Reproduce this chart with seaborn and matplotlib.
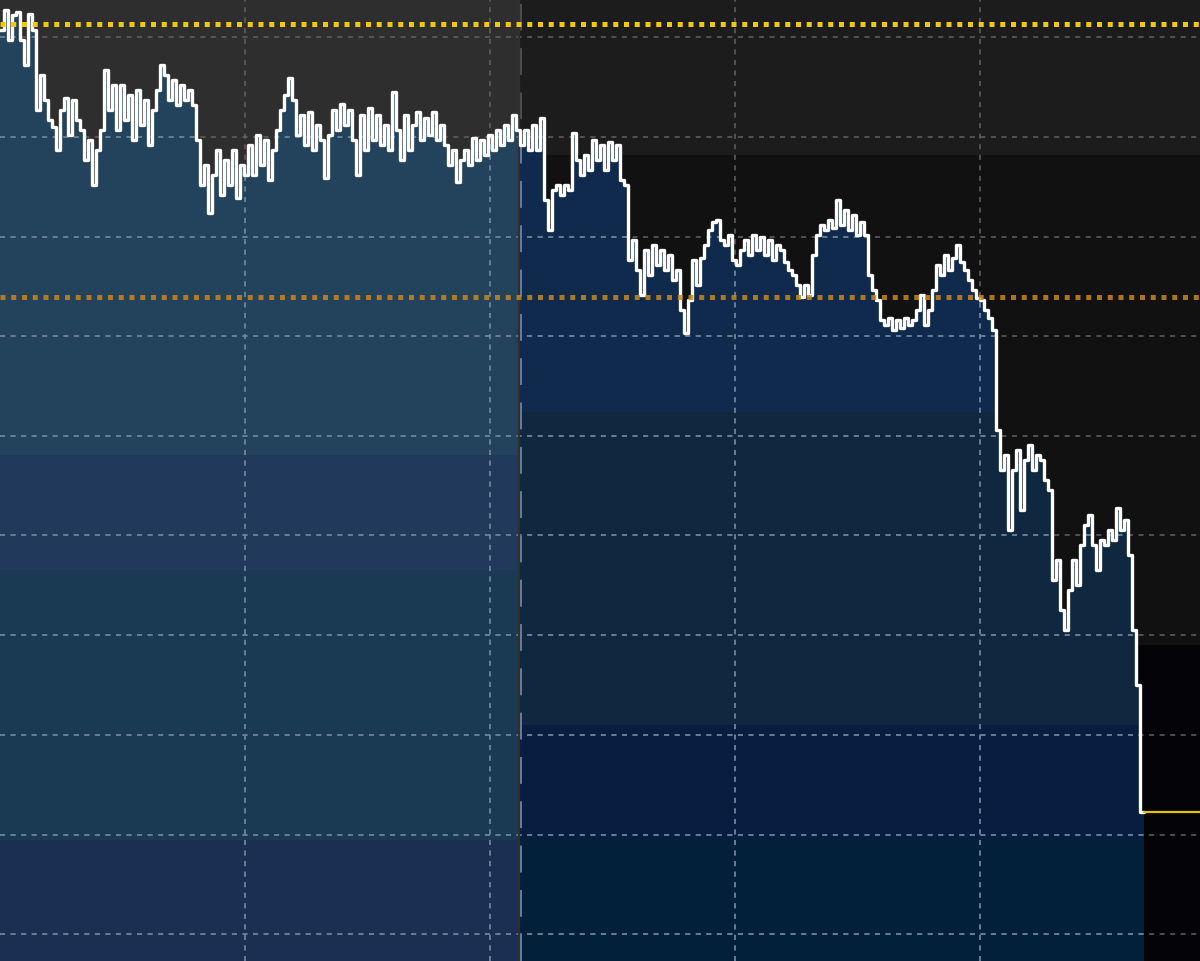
import numpy as np
import pandas as pd
import matplotlib
matplotlib.use("Agg")
import matplotlib.pyplot as plt
import seaborn as sns
from matplotlib.patches import Rectangle

# ---- data (price index) ----
close = [
    97.0, 99.0, 96.0, 98.5, 98.8, 96.0, 93.5, 98.6, 97.0, 89.0,
    92.5, 90.0, 88.0, 87.3, 85.0, 89.0, 90.2, 86.5, 90.0, 88.0,
    87.0, 84.0, 86.0, 81.5, 85.0, 87.0, 93.0, 89.0, 91.5, 87.0,
    91.5, 88.0, 90.5, 86.0, 91.0, 87.5, 90.0, 85.5, 89.0, 91.0,
    93.5, 92.5, 90.0, 92.0, 89.5, 91.5, 90.0, 91.0, 89.5, 86.0,
    81.5, 83.5, 78.7, 82.5, 85.0, 80.5, 84.0, 81.5, 85.0, 80.2,
    83.5, 82.5, 85.5, 82.5, 86.5, 83.5, 86.0, 82.0, 85.0, 87.0,
    89.0, 90.5, 92.2, 90.0, 86.5, 88.5, 85.5, 88.8, 85.0, 87.5,
    86.0, 82.2, 86.5, 89.0, 87.0, 89.6, 87.5, 89.0, 86.0, 82.5,
    88.5, 85.0, 89.2, 86.0, 88.5, 85.5, 87.5, 85.0, 90.8, 87.0,
    84.0, 88.5, 85.0, 87.5, 88.8, 86.0, 88.2, 86.5, 88.8, 86.0,
    87.5, 85.5, 83.5, 85.0, 81.8, 84.0, 85.0, 83.5, 86.2, 84.0,
    86.0, 84.5, 86.5, 85.0, 87.0, 85.5, 87.5, 86.0, 88.5, 87.0,
    85.5, 87.0, 85.0, 87.5, 85.0, 88.2, 80.0, 77.0, 81.0, 81.5,
    80.5, 81.5, 81.0, 86.7, 84.0, 82.5, 84.5, 83.0, 86.0, 84.0,
    85.5, 83.0, 85.8, 84.0, 85.5, 82.0, 81.5, 74.0, 76.0, 73.0,
    70.5, 75.0, 72.5, 75.5, 73.5, 75.0, 73.0, 74.5, 72.0, 73.0,
    69.0, 66.7, 70.0, 74.0, 71.5, 74.2, 75.5, 77.0, 77.8, 78.0,
    76.0, 75.5, 76.5, 74.0, 73.5, 75.0, 76.0, 74.5, 76.5, 75.0,
    76.3, 74.5, 76.0, 74.0, 75.5, 75.0, 73.8, 73.0, 72.5, 71.5,
    70.3, 71.5, 70.5, 74.5, 76.5, 77.5, 77.0, 78.0, 77.2, 80.0,
    77.5, 79.0, 77.0, 78.5, 76.5, 77.8, 76.5, 72.5, 71.0, 70.0,
    68.0, 67.5, 68.2, 67.0, 68.0, 67.2, 68.2, 67.5, 68.0, 69.0,
    70.5, 67.5, 69.0, 71.0, 73.5, 72.5, 74.5, 73.0, 74.2, 75.5,
    73.8, 73.0, 72.0, 71.0, 70.2, 70.0, 69.0, 68.2, 67.0, 57.0,
    53.0, 54.5, 47.0, 53.0, 55.0, 49.0, 54.0, 55.5, 53.0, 54.5,
    54.0, 52.0, 51.0, 42.0, 44.0, 39.0, 37.0, 41.0, 44.0, 41.5,
    45.5, 47.5, 48.5, 45.5, 43.0, 46.0, 45.5, 47.0, 46.0, 49.2,
    47.0, 48.0, 44.5, 37.0, 31.5, 18.8, 18.8,
]
period_start = [0, 130]           # two shaded periods (session split)
ref_high = 97.6                   # yellow dotted reference
ref_mid = 70.3                    # orange dotted reference
last_price = 18.8
grid_levels = [96.3, 86.3, 76.3, 66.4, 56.4, 46.5, 36.5, 26.5, 16.5, 6.6]
vgrid = [61.25, 122.5, 183.75, 245.0]

X_MAX, Y_MIN, Y_MAX = 300, 3.9, 100.0

df = pd.DataFrame({"t": np.arange(len(close)), "close": close})

sns.set_theme(style="dark")
fig = plt.figure(figsize=(12, 9.61), dpi=100)
ax = fig.add_axes([0, 0, 1, 1])
ax.set_xlim(0, X_MAX)
ax.set_ylim(Y_MIN, Y_MAX)
ax.axis("off")

split = period_start[1]

# background (area above the line)
above_bands = [
    (0, split, Y_MIN, Y_MAX, "#2e2e2e"),
    (split, X_MAX, 84.5, Y_MAX, "#1c1c1c"),
    (split, X_MAX, 35.5, 84.5, "#111111"),
    (split, X_MAX, Y_MIN - 1, 35.5, "#030308"),
]
for x0, x1, y0, y1, c in above_bands:
    ax.add_patch(Rectangle((x0, y0), x1 - x0, y1 - y0, facecolor=c,
                           edgecolor="none", zorder=0))

# fill polygon under the line (used as clip path)
poly = ax.fill_between(df["t"], df["close"], Y_MIN - 2, step="post",
                       facecolor="none", edgecolor="none", zorder=0.5)
fill_path = poly.get_paths()[0]

below_bands = [
    (0, split, 54.5, Y_MAX, "#23425c"),
    (0, split, 43.0, 54.5, "#213a5b"),
    (0, split, 16.0, 43.0, "#1a3a54"),
    (0, split, Y_MIN - 2, 16.0, "#1b2f52"),
    (split, X_MAX, 58.8, Y_MAX, "#0f2a4c"),
    (split, X_MAX, 27.5, 58.8, "#10283f"),
    (split, X_MAX, 16.0, 27.5, "#071e40"),
    (split, X_MAX, Y_MIN - 2, 16.0, "#03203a"),
]
for x0, x1, y0, y1, c in below_bands:
    r = Rectangle((x0, y0), x1 - x0, y1 - y0, facecolor=c,
                  edgecolor="none", zorder=1)
    ax.add_patch(r)
    r.set_clip_path(fill_path, ax.transData)

# grid lines: gray on dark background, blue-gray inside the fill
grid_dash = (3.3, 3.6)
for clip, col in [(False, "#626262"), (True, "#6b88a6")]:
    for gy in grid_levels:
        ln = ax.axhline(gy, color=col, lw=1.1, dashes=grid_dash,
                        zorder=2.1 if clip else 2)
        if clip:
            ln.set_clip_path(fill_path, ax.transData)
    for gx in vgrid:
        ln = ax.axvline(gx, color=col, lw=1.1, dashes=grid_dash,
                        zorder=2.1 if clip else 2)
        if clip:
            ln.set_clip_path(fill_path, ax.transData)

# period separator
ax.axvline(split - 0.35, color="#2f2f2f", lw=1.6, zorder=2.4)
sep = ax.axvline(split + 0.3, color="#5a5a5a", lw=1.1, dashes=(17.5, 11.5), zorder=2.5)
sep2 = ax.axvline(split + 0.3, color="#6d8aa8", lw=1.1, dashes=(17.5, 11.5), zorder=2.6)
sep2.set_clip_path(fill_path, ax.transData)

# price line
sns.lineplot(data=df, x="t", y="close", ax=ax, color="white", lw=2.4,
             drawstyle="steps-post", estimator=None, zorder=3)

# reference lines
ax.axhline(ref_high, color="#f2c80a", lw=3.6, dashes=(1, 1.15),
           solid_capstyle="butt", dash_capstyle="butt", zorder=4)
ax.axhline(ref_mid, color="#c8861e", alpha=0.85, lw=3.6, dashes=(1, 1.15),
           dash_capstyle="butt", zorder=4)
ax.plot([len(close) - 1, X_MAX], [last_price, last_price], color="#e8c000",
        lw=1.6, zorder=4)

ax.set_xlim(0, X_MAX)
ax.set_ylim(Y_MIN, Y_MAX)
fig.savefig("out.png", dpi=100)
